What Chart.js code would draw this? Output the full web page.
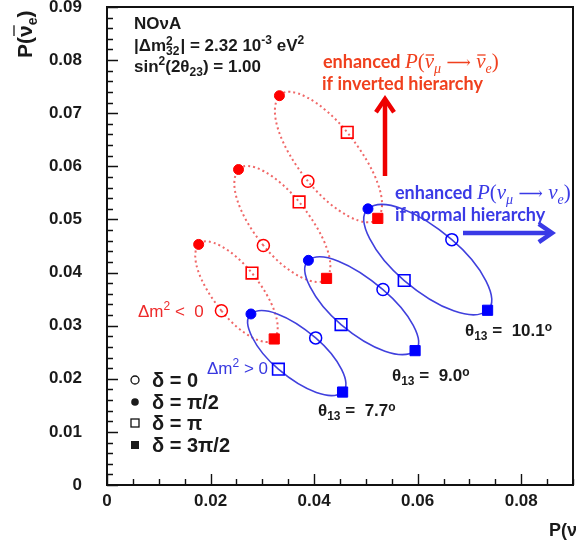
<!DOCTYPE html>
<html>
<head>
<meta charset="utf-8">
<script src="https://cdn.jsdelivr.net/npm/chart.js@4.4.1/dist/chart.umd.min.js"></script>
<style>
  html, body { margin: 0; padding: 0; background: #fff; }
  canvas { display: block; }
</style>
</head>
<body>
<canvas id="chart" width="576" height="546"></canvas>
<script>
// axis ticks
const xTicks = [0, 0.02, 0.04, 0.06, 0.08];
const yTicks = [0, 0.01, 0.02, 0.03, 0.04, 0.05, 0.06, 0.07, 0.08, 0.09];

// legend / labels
const deltaLabels = ['δ = 0', 'δ = π/2', 'δ = π', 'δ = 3π/2'];
const theta13Labels = ['7.7', '9.0', '10.1'];

// points in order delta = 0, pi/2, pi, 3pi/2
// normal hierarchy (dm2 > 0): x = P(nu_e), y = P(anti nu_e)
const nhP_77 = [0.0403, 0.0278, 0.0331, 0.0455];
const nhPbar_77 = [0.0277, 0.0322, 0.0218, 0.0175];
const nhP_90 = [0.0533, 0.0389, 0.0452, 0.0595];
const nhPbar_90 = [0.0368, 0.0423, 0.0302, 0.0253];
const nhP_101 = [0.0666, 0.0504, 0.0574, 0.0735];
const nhPbar_101 = [0.0462, 0.0520, 0.0385, 0.0329];

// inverted hierarchy (dm2 < 0)
const ihP_77 = [0.0221, 0.0177, 0.0280, 0.0323];
const ihPbar_77 = [0.0328, 0.0453, 0.0399, 0.0275];
const ihP_90 = [0.0302, 0.0254, 0.0371, 0.0424];
const ihPbar_90 = [0.0451, 0.0594, 0.0533, 0.0389];
const ihP_101 = [0.0388, 0.0333, 0.0464, 0.0523];
const ihPbar_101 = [0.0572, 0.0733, 0.0664, 0.0502];

const BLUE = '#0000ff', BLUE_LINE = '#4040dd', BLUE_TXT = '#3a3ae6';
const RED = '#ff0000', RED_LINE = '#f06868', RED_TXT = '#f0401e';
const CLEAR = 'rgba(0,0,0,0)';
const SANS = '"Liberation Sans", Arial, sans-serif';

// walk the loop twice round the ends so the spline closes smoothly, then hide the extra bits
const loopOrder = [3, 0, 1, 2, 3, 0, 1];

function ellipse(xs, ys, color, lineColor, dashed) {
    const pts = xs.map((x, i) => ({ x: x, y: ys[i] }));
    return [
        {
            data: pts,
            pointStyle: ['circle', 'circle', 'rect', 'rect'],
            pointRadius: [6, 5, 8.2, 7.2],
            pointBorderWidth: [1.5, 1, 1.6, 1],
            pointBorderColor: color,
            pointBackgroundColor: [CLEAR, color, CLEAR, color],
            order: 1
        },
        {
            data: loopOrder.map(i => pts[i]),
            showLine: true,
            tension: 0.55,
            pointRadius: 0,
            borderWidth: dashed ? 2 : 1.6,
            borderDash: dashed ? [2, 3] : [],
            borderColor: lineColor,
            segment: { borderColor: c => (c.p0DataIndex === 0 || c.p0DataIndex === 5) ? CLEAR : lineColor },
            order: 2
        }
    ];
}

function rich(ctx, x, y, parts, color) {
    let cx = x;
    for (const p of parts) {
        ctx.font = p.f;
        ctx.fillStyle = color;
        ctx.fillText(p.t, cx, y + (p.dy || 0));
        const w = ctx.measureText(p.t).width;
        if (p.bar) {
            ctx.strokeStyle = color; ctx.lineWidth = 1.3;
            ctx.beginPath(); ctx.moveTo(cx + p.bar[0], y - p.bar[1]); ctx.lineTo(cx + w + p.bar[0] - 1, y - p.bar[1]); ctx.stroke();
        }
        cx += p.adv !== undefined ? p.adv : w;
    }
    return cx;
}

function arrow(ctx, x1, y1, x2, y2, color) {
    const ang = Math.atan2(y2 - y1, x2 - x1), L = 16, s = 0.6;
    ctx.strokeStyle = color; ctx.lineWidth = 4.5; ctx.lineCap = 'butt';
    ctx.beginPath(); ctx.moveTo(x1, y1); ctx.lineTo(x2 - Math.cos(ang) * 2, y2 - Math.sin(ang) * 2); ctx.stroke();
    ctx.lineJoin = 'miter';
    ctx.beginPath();
    ctx.moveTo(x2 - L * Math.cos(ang - s), y2 - L * Math.sin(ang - s));
    ctx.lineTo(x2, y2);
    ctx.lineTo(x2 - L * Math.cos(ang + s), y2 - L * Math.sin(ang + s));
    ctx.stroke();
}

const deco = {
    id: 'deco',
    afterDraw(chart) {
        const { ctx, chartArea: a, scales: { x, y } } = chart;
        ctx.save();

        // frame + inward ticks
        ctx.strokeStyle = '#111'; ctx.lineWidth = 2;
        ctx.strokeRect(a.left, a.top, a.right - a.left, a.bottom - a.top);
        ctx.lineWidth = 1.4;
        ctx.beginPath();
        for (let i = 0; i <= 45; i++) {
            const v = i * 0.002, py = Math.round(y.getPixelForValue(v)) + 0.5;
            ctx.moveTo(a.left, py); ctx.lineTo(a.left + (i % 5 === 0 ? 11 : 6), py);
        }
        for (let i = 0; i <= 18; i++) {
            const v = i * 0.005, px = Math.round(x.getPixelForValue(v)) + 0.5;
            ctx.moveTo(px, a.bottom); ctx.lineTo(px, a.bottom - (i % 4 === 0 ? 11 : 6));
        }
        ctx.stroke();

        ctx.textBaseline = 'alphabetic';
        ctx.textAlign = 'left';
        const b = s => `bold ${s}px ${SANS}`;
        const n = s => `${s}px ${SANS}`;

        // info box
        ctx.font = b(12);
        const w32 = ctx.measureText('32').width;
        rich(ctx, 134, 29, [{ t: 'NOνA', f: b(17) }], '#1a1a1a');
        rich(ctx, 134, 51, [
            { t: '|Δm', f: b(17) }, { t: '32', f: b(12), dy: 4, adv: 0 }, { t: '2', f: b(12), dy: -6, adv: w32 + 1 },
            { t: '| = 2.32 10', f: b(17) }, { t: '-3', f: b(12), dy: -7 }, { t: ' eV', f: b(17) }, { t: '2', f: b(12), dy: -7 }
        ], '#1a1a1a');
        rich(ctx, 134, 72, [
            { t: 'sin', f: b(17) }, { t: '2', f: b(12), dy: -7 }, { t: '(2θ', f: b(17) }, { t: '23', f: b(12), dy: 4 }, { t: ') = 1.00', f: b(17) }
        ], '#1a1a1a');

        // hierarchy notes
        const cal = `bold 18px Lato, ${SANS}`;
        const mi = 'italic 21px "Liberation Serif", serif';
        const mr = '21px "Liberation Serif", serif';
        const ma = '17px "DejaVu Serif", serif';
        const ms = 'italic 14px "Liberation Serif", serif';
        rich(ctx, 323, 68, [
            { t: 'enhanced ', f: cal }, { t: 'P', f: mi }, { t: '(', f: mr }, { t: 'ν', f: mi, bar: [1, 13] },
            { t: 'μ', f: ms, dy: 5 }, { t: ' ⟶ ', f: ma }, { t: 'ν', f: mi, bar: [1, 13] }, { t: 'e', f: ms, dy: 5 }, { t: ')', f: mr }
        ], RED_TXT);
        rich(ctx, 322, 90, [{ t: 'if inverted hierarchy', f: cal }], RED_TXT);
        rich(ctx, 395, 199, [
            { t: 'enhanced ', f: cal }, { t: 'P', f: mi }, { t: '(', f: mr }, { t: 'ν', f: mi },
            { t: 'μ', f: ms, dy: 5 }, { t: ' ⟶ ', f: ma }, { t: 'ν', f: mi }, { t: 'e', f: ms, dy: 5 }, { t: ')', f: mr }
        ], BLUE_TXT);
        rich(ctx, 395, 221, [{ t: 'if normal hierarchy', f: cal }], BLUE_TXT);
        arrow(ctx, 385, 176, 385, 99, '#ee0000');
        arrow(ctx, 463, 233, 552, 233, BLUE_TXT);

        // dm2 sign labels
        rich(ctx, 138, 317, [{ t: 'Δm', f: n(17) }, { t: '2', f: n(12), dy: -7 }, { t: ' <  0', f: n(17) }], '#ee2a2a');
        rich(ctx, 207, 374, [{ t: 'Δm', f: n(17) }, { t: '2', f: n(12), dy: -7 }, { t: ' > 0', f: n(17) }], '#3838e0');

        // theta13 labels
        const thPos = [[318, 416], [392, 381], [465, 336]];
        theta13Labels.forEach((t, i) => {
            rich(ctx, thPos[i][0], thPos[i][1], [
                { t: 'θ', f: b(17) }, { t: '13', f: b(12), dy: 4 }, { t: ' =  ' + t, f: b(17) }, { t: 'o', f: b(12), dy: -5 }
            ], '#1a1a1a');
        });

        // legend
        const rows = [380, 402, 423, 445];
        ctx.strokeStyle = '#111'; ctx.fillStyle = '#111'; ctx.lineWidth = 1.3;
        deltaLabels.forEach((lab, i) => {
            const cy = rows[i], cx = 135;
            ctx.beginPath();
            if (i === 0) { ctx.arc(cx, cy, 4, 0, 2 * Math.PI); ctx.stroke(); }
            if (i === 1) { ctx.arc(cx, cy, 3.8, 0, 2 * Math.PI); ctx.fill(); }
            if (i === 2) { ctx.strokeRect(cx - 4, cy - 4, 8, 8); }
            if (i === 3) { ctx.fillRect(cx - 4, cy - 4, 8, 8); }
            rich(ctx, 152, cy + 7, [{ t: lab, f: b(20) }], '#1a1a1a');
        });

        // axis titles
        rich(ctx, 549, 536, [{ t: 'P(ν', f: b(18) }, { t: 'e', f: b(12), dy: 5 }, { t: ')', f: b(18) }], '#1a1a1a');
        ctx.save();
        ctx.translate(32, 58);
        ctx.rotate(-Math.PI / 2);
        rich(ctx, 0, 0, [{ t: 'P(', f: b(21) }, { t: 'ν', f: b(21), bar: [1, 18] }, { t: 'e', f: b(14), dy: 5 }, { t: ')', f: b(21) }], '#1a1a1a');
        ctx.restore();

        ctx.restore();
    }
};

const tickFont = { family: SANS, size: 17, weight: 'bold' };
const fmt = v => v === 0 ? '0' : v.toFixed(2);
const noPad = s => { s.paddingLeft = 0; s.paddingRight = 0; s.paddingTop = 0; s.paddingBottom = 0; };

new Chart(document.getElementById('chart'), {
    type: 'scatter',
    data: {
        datasets: [
            ...ellipse(nhP_77, nhPbar_77, BLUE, BLUE_LINE, false),
            ...ellipse(nhP_90, nhPbar_90, BLUE, BLUE_LINE, false),
            ...ellipse(nhP_101, nhPbar_101, BLUE, BLUE_LINE, false),
            ...ellipse(ihP_77, ihPbar_77, RED, RED_LINE, true),
            ...ellipse(ihP_90, ihPbar_90, RED, RED_LINE, true),
            ...ellipse(ihP_101, ihPbar_101, RED, RED_LINE, true)
        ]
    },
    options: {
        responsive: false,
        devicePixelRatio: 1,
        animation: false,
        layout: { autoPadding: false, padding: { left: 0, top: 7, right: 3, bottom: 0 } },
        plugins: { legend: { display: false }, tooltip: { enabled: false } },
        scales: {
            x: {
                type: 'linear', min: 0, max: 0.09,
                afterBuildTicks: s => { s.ticks = xTicks.map(v => ({ value: v })); },
                afterFit: s => { s.height = 61; noPad(s); },
                grid: { display: false, drawTicks: false },
                border: { display: false },
                ticks: { font: tickFont, color: '#1a1a1a', padding: 6, callback: fmt, maxRotation: 0 }
            },
            y: {
                type: 'linear', min: 0, max: 0.09,
                afterBuildTicks: s => { s.ticks = yTicks.map(v => ({ value: v })); },
                afterFit: s => { s.width = 107; noPad(s); },
                grid: { display: false, drawTicks: false },
                border: { display: false },
                ticks: { font: tickFont, color: '#1a1a1a', padding: 25, callback: fmt }
            }
        }
    },
    plugins: [deco]
});
</script>
</body>
</html>
